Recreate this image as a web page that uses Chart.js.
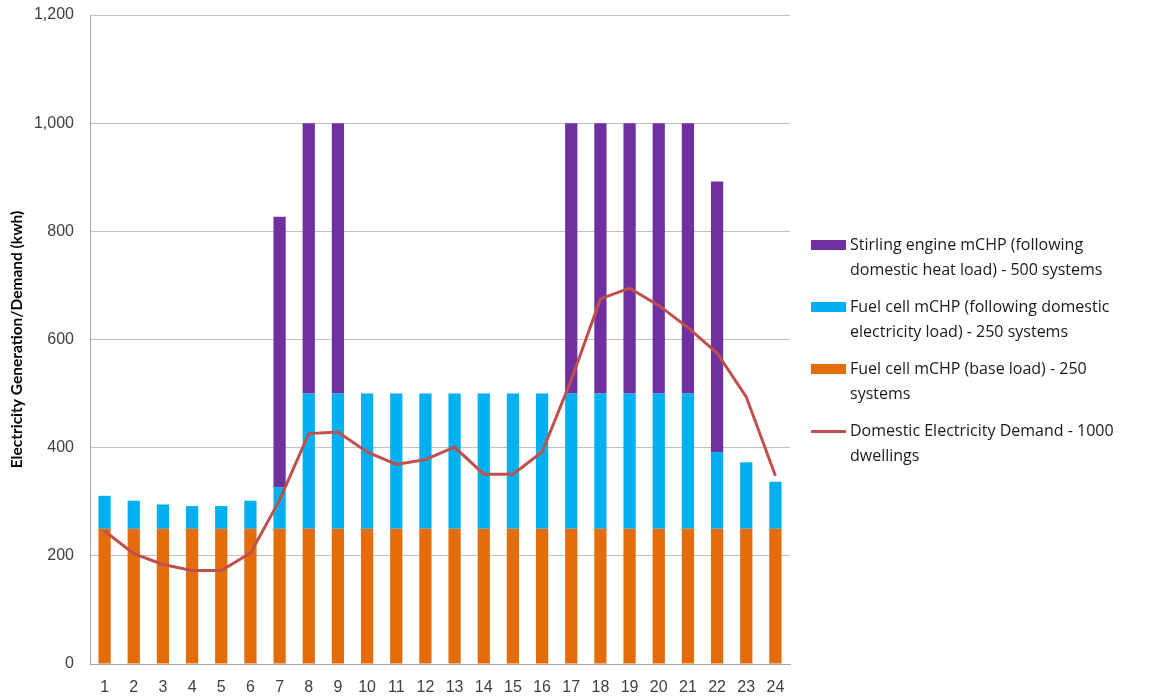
<!DOCTYPE html>
<html>
<head>
<meta charset="utf-8">
<title>mCHP generation vs domestic demand</title>
<script src="https://cdn.jsdelivr.net/npm/chart.js"></script>
<style>
  html, body { margin: 0; padding: 0; background: #fff; }
  #wrap { position: relative; width: 1170px; height: 697px; }
  #legend {
    position: absolute; left: 811px; top: 232px;
    font-family: "Open Sans", sans-serif; font-size: 16px; color: #1a1a1a;
    line-height: 25px;
  }
  .item { position: relative; padding-left: 39px; margin-bottom: 12px; }
  .sw { position: absolute; left: 0; top: 8px; width: 35px; height: 10px; }
  .sw.line { top: 12px; height: 3px; }
</style>
</head>
<body>
<div id="wrap">
  <canvas id="chart" width="1170" height="697"></canvas>
  <div id="legend"></div>
</div>
<script>
const hours = ['1','2','3','4','5','6','7','8','9','10','11','12','13','14','15','16','17','18','19','20','21','22','23','24'];

// kWh per hour for each group
const baseLoad = [250,250,250,250,250,250,250,250,250,250,250,250,250,250,250,250,250,250,250,250,250,250,250,250];
const fuelCellFollow = [61,52,45,42,42,52,77,250,250,250,250,250,250,250,250,250,250,250,250,250,250,142,123,87];
const stirling = [0,0,0,0,0,0,500,500,500,0,0,0,0,0,0,0,500,500,500,500,500,500,0,0];
const demand = [246,204,184,173,173,205,303,426,429,392,369,378,401,351,351,392,525,675,695,663,622,575,494,348];

const colors = {
  stirling: '#7030A0',
  follow: '#00B0F0',
  base: '#E46C0A',
  demand: '#C0504D'
};

const legendItems = [
  { color: colors.stirling, text: 'Stirling engine mCHP (following<br>domestic heat load) - 500 systems' },
  { color: colors.follow, text: 'Fuel cell mCHP (following domestic<br>electricity load) - 250 systems' },
  { color: colors.base, text: 'Fuel cell mCHP (base load) - 250<br>systems' },
  { color: colors.demand, text: 'Domestic Electricity Demand - 1000<br>dwellings', line: true }
];

document.getElementById('legend').innerHTML = legendItems.map(it =>
  `<div class="item"><span class="sw${it.line ? ' line' : ''}" style="background:${it.color}"></span>${it.text}</div>`
).join('');

const bar = (label, data, color) => ({
  type: 'bar', label, data, backgroundColor: color, stack: 'gen', order: 1,
  barPercentage: 0.42, categoryPercentage: 1
});

const tickFont = { family: 'Liberation Sans', size: 16 };

new Chart(document.getElementById('chart'), {
  data: {
    labels: hours,
    datasets: [
      bar('Fuel cell mCHP (base load) - 250 systems', baseLoad, colors.base),
      bar('Fuel cell mCHP (following domestic electricity load) - 250 systems', fuelCellFollow, colors.follow),
      bar('Stirling engine mCHP (following domestic heat load) - 500 systems', stirling, colors.stirling),
      {
        type: 'line', label: 'Domestic Electricity Demand - 1000 dwellings', data: demand,
        borderColor: colors.demand, borderWidth: 3, pointRadius: 0, tension: 0,
        stack: 'demand', order: 0
      }
    ]
  },
  options: {
    responsive: false,
    animation: false,
    layout: { padding: { top: 0, right: 380, bottom: 0, left: 0 } },
    plugins: { legend: { display: false }, tooltip: { enabled: false } },
    scales: {
      x: {
        stacked: true,
        grid: { display: false },
        border: { color: '#a6a6a6', width: 1 },
        ticks: { color: '#404040', font: tickFont, padding: 6, maxRotation: 0 },
        afterFit: s => { s.height = 33; }
      },
      y: {
        stacked: true,
        min: 0, max: 1200,
        ticks: { stepSize: 200, color: '#404040', font: tickFont, padding: 16 },
        grid: { color: '#bfbfbf', lineWidth: 1, drawTicks: false },
        border: { color: '#a6a6a6', width: 1 },
        title: {
          display: true, text: 'Electricity Generation/Demand (kwh)', color: '#000',
          font: { family: 'Lato', size: 15.5, weight: 'bold' },
          padding: { top: 8, bottom: 4 }
        },
        afterFit: s => { s.width = 90; s.paddingTop = 15; }
      }
    }
  }
});
</script>
</body>
</html>
